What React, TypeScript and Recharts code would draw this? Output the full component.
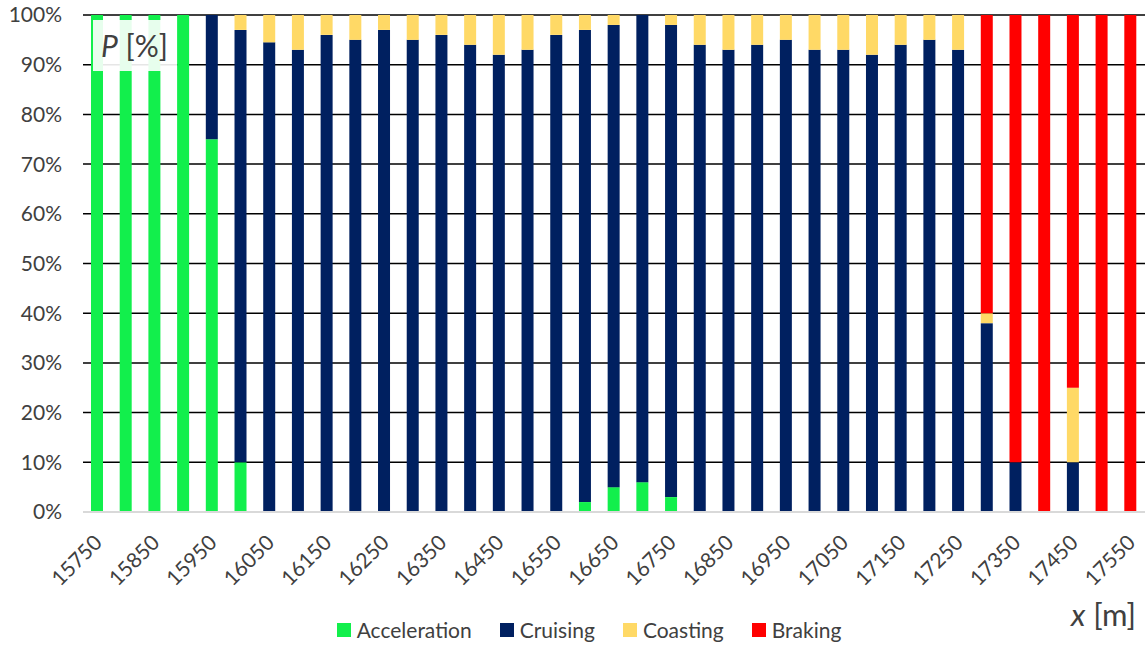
import React from 'react';
import { BarChart, Bar, XAxis, YAxis, CartesianGrid, Legend } from 'recharts';

const categories = [
  '15750', '15800', '15850', '15900', '15950', '16000', '16050', '16100', '16150', '16200',
  '16250', '16300', '16350', '16400', '16450', '16500', '16550', '16600', '16650', '16700',
  '16750', '16800', '16850', '16900', '16950', '17000', '17050', '17100', '17150', '17200',
  '17250', '17300', '17350', '17400', '17450', '17500', '17550',
];
const acceleration = [100, 100, 100, 100, 75, 10, 0, 0, 0, 0, 0, 0, 0, 0, 0, 0, 0, 2, 5, 6, 3, 0, 0, 0, 0, 0, 0, 0, 0, 0, 0, 0, 0, 0, 0, 0, 0];
const cruising = [0, 0, 0, 0, 25, 87, 94.5, 93, 96, 95, 97, 95, 96, 94, 92, 93, 96, 95, 93, 94, 95, 94, 93, 94, 95, 93, 93, 92, 94, 95, 93, 38, 10, 0, 10, 0, 0];
const coasting = [0, 0, 0, 0, 0, 3, 5.5, 7, 4, 5, 3, 5, 4, 6, 8, 7, 4, 3, 2, 0, 2, 6, 7, 6, 5, 7, 7, 8, 6, 5, 7, 2, 0, 0, 15, 0, 0];
const braking = [0, 0, 0, 0, 0, 0, 0, 0, 0, 0, 0, 0, 0, 0, 0, 0, 0, 0, 0, 0, 0, 0, 0, 0, 0, 0, 0, 0, 0, 0, 0, 60, 90, 100, 75, 100, 100];
const yTicks = [0, 10, 20, 30, 40, 50, 60, 70, 80, 90, 100];
const seriesOrder = ['Acceleration', 'Cruising', 'Coasting', 'Braking'];

const data = categories.map((x, i) => ({
  x,
  Acceleration: acceleration[i],
  Cruising: cruising[i],
  Coasting: coasting[i],
  Braking: braking[i],
}));

const FONT = 'Lato, "Open Sans", sans-serif';
const TEXT = '#404040';

const XTick = (props: any) => {
  const { x, y, payload } = props;
  return (
    <text
      transform={`translate(${x + 6},${y + 30}) rotate(-45)`}
      textAnchor="end"
      fill={TEXT}
      fontSize={21}
      fontFamily={FONT}
    >
      {payload.value}
    </text>
  );
};

const LegendBox = (props: any) => {
  const items = [...(props.payload || [])].sort(
    (a: any, b: any) => seriesOrder.indexOf(a.value) - seriesOrder.indexOf(b.value)
  );
  return (
    <div style={{ display: 'flex', justifyContent: 'center', fontFamily: FONT, fontSize: 21, color: TEXT, lineHeight: '24px' }}>
      {items.map((p: any, i: number) => (
        <div key={p.value} style={{ display: 'flex', alignItems: 'center', marginLeft: i ? 28 : 0 }}>
          <span style={{ width: 14, height: 14, background: p.color, marginRight: 6, display: 'inline-block' }} />
          <span>{p.value}</span>
        </div>
      ))}
    </div>
  );
};

export default function App() {
  return (
    <div style={{ position: 'absolute', left: 0, top: 0, width: 1145, height: 645, background: '#fff' }}>
      <BarChart width={1145} height={645} data={data} margin={{ top: 15, right: 0, left: 0, bottom: 0 }} barSize={12}>
        <CartesianGrid vertical={false} stroke="#000" strokeWidth={1.5} />
        <YAxis
          width={83}
          domain={[0, 100]}
          ticks={yTicks}
          tickFormatter={(v: number) => `${v}%`}
          axisLine={false}
          tickLine={false}
          tickSize={0}
          tickMargin={21}
          tick={{ fill: TEXT, fontSize: 21, fontFamily: FONT }}
        />
        <Bar dataKey="Acceleration" stackId="a" fill="#12EF4C" isAnimationActive={false} />
        <Bar dataKey="Cruising" stackId="a" fill="#002060" isAnimationActive={false} />
        <Bar dataKey="Coasting" stackId="a" fill="#FFD966" isAnimationActive={false} />
        <Bar dataKey="Braking" stackId="a" fill="#FF0000" isAnimationActive={false} />
        <XAxis
          dataKey="x"
          height={133}
          interval={1}
          tickLine={false}
          tickSize={0}
          axisLine={{ stroke: '#d9d9d9', strokeWidth: 2 }}
          tick={<XTick />}
        />
        <Legend
          layout="horizontal"
          verticalAlign="middle"
          align="center"
          wrapperStyle={{ top: 618, left: 309, width: 560, height: 24 }}
          content={<LegendBox />}
        />
      </BarChart>
      <div
        style={{
          position: 'absolute', left: 93, top: 20, width: 84, height: 51,
          background: 'rgba(255,255,255,0.9)', fontFamily: FONT, fontSize: 30, color: TEXT,
          lineHeight: '51px', paddingLeft: 8, boxSizing: 'border-box', whiteSpace: 'nowrap',
        }}
      >
        <i>P</i> [%]
      </div>
      <div
        style={{
          position: 'absolute', left: 1071, top: 597, fontFamily: FONT, fontSize: 31, color: TEXT,
          lineHeight: '34px', whiteSpace: 'nowrap',
        }}
      >
        <i>x</i> [m]
      </div>
    </div>
  );
}
